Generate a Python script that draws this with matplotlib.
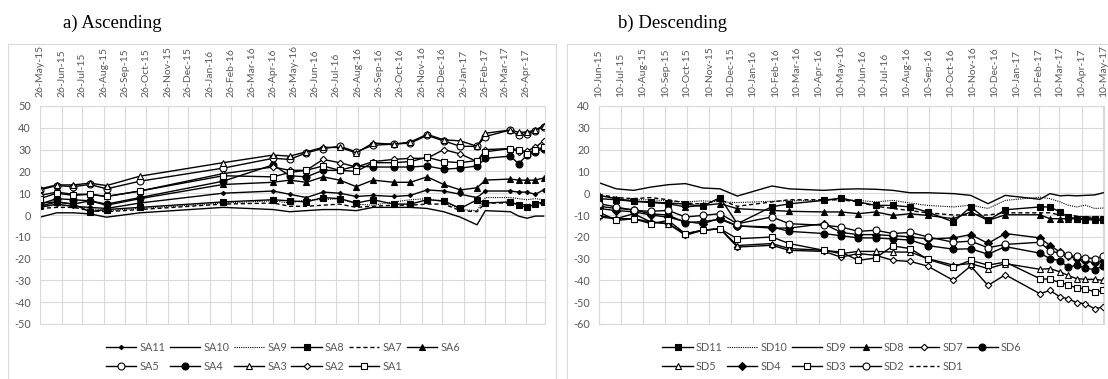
import matplotlib
matplotlib.use('Agg')
import matplotlib.pyplot as plt
import matplotlib.dates as mdates
from matplotlib.patches import Rectangle
import pandas as pd

plt.rcParams['axes.unicode_minus'] = False

# ---------------- ascending track (SA) ----------------
asc_dates = ['2015-05-26', '2015-06-19', '2015-07-13', '2015-08-06', '2015-08-30',
             '2015-10-17', '2016-02-14', '2016-04-26', '2016-05-20', '2016-06-13',
             '2016-07-07', '2016-07-31', '2016-08-24', '2016-09-17', '2016-10-17',
             '2016-11-10', '2016-12-04', '2016-12-28', '2017-01-21', '2017-02-14',
             '2017-02-26', '2017-04-03', '2017-04-15', '2017-04-27', '2017-05-09',
             '2017-05-21']

SA1 = [7.5, 10, 9, 9.5, 8.5, 11, 18, 17.5, 19.5, 20.5, 22.5, 20.5, 20, 24, 24,
       24.5, 26.5, 24.5, 24, 25, 29, 30.5, 30, 28, 30, 31]
SA2 = [9, 10.5, 9.5, 9.5, 8.5, 11, 19, 22, 20.5, 20.5, 25.5, 24, 22, 24.5, 25.5,
       26, 26, 30, 28, 24.5, 30, 30.5, 29, 29.5, 31, 34]
SA3 = [12, 13.8, 13.8, 14.6, 13.5, 17.8, 24, 27.5, 27, 29, 31, 31, 28.5, 33, 32.5,
       33.5, 37, 34.5, 34, 31.5, 37.5, 39, 38, 38, 39, 41]
SA4 = [5, 7.5, 7, 6.5, 5, 8, 15.5, 23, 18, 17.5, 20.5, 20.5, 22.5, 22, 22,
       22, 22.5, 21, 21.5, 22.5, 26, 27, 23.5, 27.5, 29, 30.5]
SA5 = [11.5, 13.5, 13, 14, 12, 15.5, 21.5, 26, 25.5, 28.5, 30.5, 31.5, 29, 32, 32.5,
       33, 36.5, 34, 31.5, 31.5, 36, 39, 36.5, 37, 38.5, 40.5]
SA6 = [4, 6, 5, 6.5, 4.5, 7.5, 14, 15, 16, 15, 17.5, 16, 13, 16, 15,
       15, 17.5, 14, 11.5, 12.5, 16, 16.5, 16, 16, 16, 17]
SA7 = [3, 3.5, 3.5, 2, 1.5, 2.5, 5, 5.5, 4, 4, 4.5, 5, 3.5, 4, 4.5,
       4.5, 5, 5, 2, 1.5, 5.5, 5.5, 5, 4.5, 5.5, 5]
SA8 = [5.5, 6, 5, 1.5, 2.5, 3.5, 6, 7, 6.5, 6, 8, 7.5, 5.5, 7, 5,
       5, 7, 6.5, 3, 7, 5.5, 6, 4.5, 3.5, 5, 6]
SA9 = [4, 4.5, 4, 3, 2, 3, 5.5, 6.5, 5.5, 7, 7, 7.5, 5, 4.5, 6,
       7, 7.5, 6, 2.5, 2, 8, 8, 7.5, 7, 7.5, 7]
SA10 = [-1, 1, 1, 0.5, -1, 1, 3.5, 2.5, 1.5, 2, 2.5, 2.5, 2, 3.5, 3.5,
        3.5, 3, 1.5, -1, -4.5, 2, 1.5, -0.5, -1.5, -0.5, -0.5]
SA11 = [3.5, 5, 4, 3.5, 3, 5.5, 10, 11, 9.5, 8, 10.5, 10, 8.5, 9, 8.5,
        9, 11.5, 11, 9.5, 8, 11, 11, 10.5, 10.5, 9.5, 11.5]

# ---------------- descending track (SD) ----------------
desc_dates = ['2015-06-10', '2015-07-04', '2015-07-28', '2015-08-21', '2015-09-14',
              '2015-10-08', '2015-11-01', '2015-11-25', '2015-12-19', '2016-02-05',
              '2016-02-29', '2016-04-17', '2016-05-11', '2016-06-04', '2016-06-28',
              '2016-07-22', '2016-08-15', '2016-09-08', '2016-10-14', '2016-11-07',
              '2016-12-01', '2016-12-25', '2017-02-11', '2017-02-25', '2017-03-11',
              '2017-03-22', '2017-04-03', '2017-04-15', '2017-04-28', '2017-05-10']

SD1 = [-0.5, -2, -2.5, -2, -3, -4.5, -5, -3, -6, -4, -3, -3, -3, -4, -6,
       -7, -8, -9, -10, -10, -10, -9, -9, -9, -10, -10, -10.5, -11, -11, -12]
SD2 = [-4.8, -6.3, -7.9, -8.3, -7.9, -10.9, -10.2, -9.4, -14, -10.9, -14, -14.7, -15.5, -17.5, -17,
       -18.5, -18, -20, -22.5, -22, -25, -23.5, -22.5, -26.5, -27.5, -28.5, -29, -29.5, -30, -29]
SD3 = [-8.6, -12.5, -11.7, -14, -12.5, -18.6, -17, -16.3, -20.9, -20.1, -23.1, -26.2, -27, -30.8, -29.7,
       -24.2, -25.4, -30.3, -33.9, -30.8, -33, -31.6, -39.2, -39.5, -41, -42, -43.5, -43.8, -45.3, -44.6]
SD4 = [-7, -8, -8.5, -10, -11, -13, -14, -11.5, -15, -16, -16, -14, -18, -19, -19,
       -19.5, -20, -21, -20.5, -19, -23, -18.5, -20.5, -24, -27, -29, -30, -31, -32, -31]
SD5 = [-10.2, -11.7, -11.7, -13.2, -14, -18.6, -17, -16.3, -24, -23.1, -25.4, -26.2, -27.7, -26.7, -26.7,
       -27, -27, -30, -33, -32.3, -34.6, -32.3, -34.9, -34.6, -36.1, -37.7, -39.2, -39.5, -39.5, -40]
SD6 = [-6, -7, -7.5, -9.5, -10, -13.5, -13, -12, -15, -15.5, -17.5, -18.5, -19.5, -20.5, -20.5,
       -21, -21.5, -24, -25.7, -25.5, -28, -24.5, -27.5, -30, -31, -34, -33, -34.5, -35, -33.5]
SD7 = [-10.9, -11.7, -9.4, -13.2, -14, -19.3, -17, -16.3, -24.7, -23.9, -26.2, -26.7, -29.3, -27.7, -28.5,
       -30.8, -31.3, -33.4, -40, -33.4, -42.3, -37.4, -46.1, -44.6, -47.6, -48.4, -50.2, -50.7, -53, -52.2]
SD8 = [-1, -2.5, -3.7, -4.3, -4.8, -6.3, -5.6, -4.8, -7.1, -7.9, -8.3, -8.6, -8.6, -9.4, -8.6,
       -10.2, -9.4, -10.2, -11.7, -8.6, -12.5, -9.9, -9.9, -11.7, -11.7, -11.7, -11.7, -12.2, -12.2, -12.5]
SD9 = [4.8, 2, 1.3, 2.8, 3.9, 4.4, 2.4, 2, -1.3, 3.3, 2, 1.3, 1.8, 2, 1.8,
       1.3, 0.2, 0.2, -0.2, -1, -4.8, -1, -2.8, -0.2, -1.2, -1, -1.2, -1, -0.8, 0.2]
SD10 = [-1, -2.5, -3, -3, -3.5, -4, -3.5, -4, -4.3, -3.7, -3.5, -3.3, -3, -3.3, -4,
        -3.3, -4.5, -5.6, -6.3, -5.5, -7, -3.3, -1.8, -2.5, -4, -5.5, -6.3, -5.5, -7, -6.8]
SD11 = [-2.5, -3, -3.7, -4, -4.5, -5, -6, -2, -14, -6.2, -4.9, -3.3, -2.2, -4, -5.6,
        -5.6, -6.3, -8.6, -13.2, -6.3, -12.5, -7.6, -6.3, -6.3, -8.6, -10.9, -11.7, -11.7, -11.7, -12]

asc_series = [('SA11', SA11), ('SA10', SA10), ('SA9', SA9), ('SA8', SA8), ('SA7', SA7),
              ('SA6', SA6), ('SA5', SA5), ('SA4', SA4), ('SA3', SA3), ('SA2', SA2), ('SA1', SA1)]
desc_series = [('SD11', SD11), ('SD10', SD10), ('SD9', SD9), ('SD8', SD8), ('SD7', SD7),
               ('SD6', SD6), ('SD5', SD5), ('SD4', SD4), ('SD3', SD3), ('SD2', SD2), ('SD1', SD1)]

# line / marker style per series
DOT = (0, (1, 1))
DASH = (0, (3, 2))
styles = {
    'SA11': dict(marker='D', ms=2.2, mfc='black'),
    'SA10': dict(marker=''),
    'SA9': dict(marker='', ls=DOT, lw=0.8),
    'SA8': dict(marker='s', ms=4.8, mfc='black'),
    'SA7': dict(marker='', ls=DASH),
    'SA6': dict(marker='^', ms=5, mfc='black'),
    'SA5': dict(marker='o', ms=5, mfc='white'),
    'SA4': dict(marker='o', ms=5, mfc='black'),
    'SA3': dict(marker='^', ms=5, mfc='white'),
    'SA2': dict(marker='D', ms=3.3, mfc='white'),
    'SA1': dict(marker='s', ms=4.8, mfc='white'),
    'SD11': dict(marker='s', ms=4.8, mfc='black'),
    'SD10': dict(marker='', ls=DOT, lw=0.8),
    'SD9': dict(marker=''),
    'SD8': dict(marker='^', ms=5, mfc='black'),
    'SD7': dict(marker='D', ms=3.3, mfc='white'),
    'SD6': dict(marker='o', ms=5, mfc='black'),
    'SD5': dict(marker='^', ms=5, mfc='white'),
    'SD4': dict(marker='D', ms=3.8, mfc='black'),
    'SD3': dict(marker='s', ms=4.8, mfc='white'),
    'SD2': dict(marker='o', ms=5, mfc='white'),
    'SD1': dict(marker='', ls=DASH),
}

GRID = '#d9d9d9'
TXT = '#595959'
TICKFONT = 'Lato'

W, H = 1108, 379
fig = plt.figure(figsize=(W / 100, H / 100), dpi=100)


def row_major(items, ncol):
    # legend fills column by column; reorder so entries read across rows
    nrow = -(-len(items) // ncol)
    out = []
    for c in range(ncol):
        for r in range(nrow):
            i = r * ncol + c
            if i < len(items):
                out.append(items[i])
    return out


def panel(rect, dates, series, ylim, monthday, xlim, legend_x):
    ax = fig.add_axes(rect)
    x = pd.to_datetime(dates)
    handles = []
    for name, vals in series:
        st = dict(ls='-', lw=1.0)
        st.update(styles[name])
        h, = ax.plot(x, vals, color='black', mec='black', mew=0.8, label=name, **st)
        handles.append(h)

    ax.set_ylim(*ylim)
    ax.set_yticks(range(ylim[0], ylim[1] + 1, 10))
    ax.set_xlim(pd.Timestamp(xlim[0]), pd.Timestamp(xlim[1]))
    ax.xaxis.set_major_locator(mdates.MonthLocator(bymonthday=monthday))
    ax.xaxis.set_major_formatter(mdates.DateFormatter('%d-%b-%y'))
    ax.xaxis.tick_top()
    ax.tick_params(axis='x', length=0, pad=6.5, labelsize=7.5, labelcolor=TXT,
                   labelrotation=90)
    ax.tick_params(axis='y', length=0, pad=6.5, labelsize=7.8, labelcolor=TXT)
    for lab in ax.get_xticklabels() + ax.get_yticklabels():
        lab.set_fontfamily(TICKFONT)
    ax.grid(True, color=GRID, lw=0.8)
    ax.set_axisbelow(True)
    for sp in ax.spines.values():
        sp.set_color(GRID)
        sp.set_linewidth(0.8)

    order = row_major(handles, 6)
    fig.legend(handles=order, labels=[h.get_label() for h in order], ncol=6,
               loc='center', bbox_to_anchor=(legend_x / W, 1 - 357 / H),
               frameon=False, handlelength=2.8, handletextpad=0.3,
               columnspacing=0.4, labelspacing=0.75,
               prop=dict(family=TICKFONT, size=7.8), labelcolor=TXT)
    return ax


panel([40 / W, 1 - 324 / H, 505 / W, 218 / H], asc_dates, asc_series, (-50, 50), 26,
      ('2015-05-26', '2017-05-23'), 283)
panel([599 / W, 1 - 324 / H, 505 / W, 218 / H], desc_dates, desc_series, (-60, 40), 10,
      ('2015-06-10', '2017-05-11'), 842)

# chart-area frames
fig.add_artist(Rectangle((8 / W, -0.01), (556 - 8) / W, 0.01 + 1 - 44 / H,
                         transform=fig.transFigure, fill=False, ec=GRID, lw=0.8))
fig.add_artist(Rectangle((567 / W, -0.01), 0.5, 0.01 + 1 - 44 / H,
                         transform=fig.transFigure, fill=False, ec=GRID, lw=0.8))

fig.text(63 / W, 1 - 23 / H, 'a) Ascending', family='Liberation Serif', size=13.5,
         ha='left', va='center')
fig.text(618 / W, 1 - 23 / H, 'b) Descending', family='Liberation Serif', size=13.5,
         ha='left', va='center')

fig.savefig('out.png', dpi=100)
